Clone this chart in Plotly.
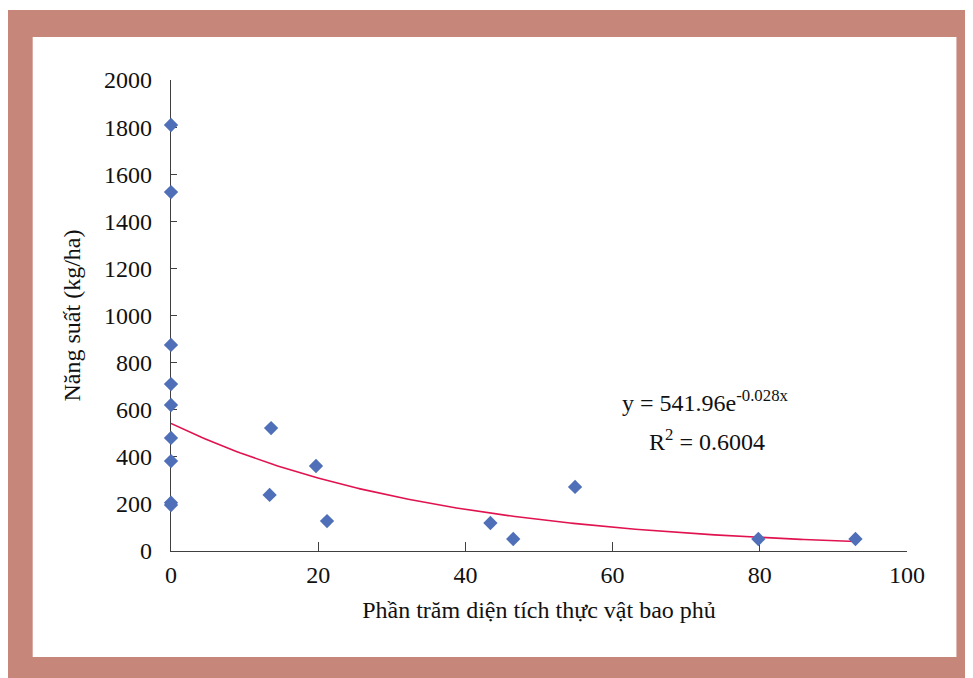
import numpy as np
import plotly.graph_objects as go

# Data
coverage = [0, 0, 0, 0, 0, 0, 0, 0, 0,
            13.6, 13.4, 19.7, 21.2, 43.4, 46.5, 54.9, 79.8, 93.0]
yield_kg = [1809, 1524, 875, 709, 620, 480, 382, 205, 195,
            522, 238, 361, 127, 119, 51, 272, 51, 51]

fit_a = 541.96
fit_b = -0.028
fit_r2 = 0.6004

x_ticks = [0, 20, 40, 60, 80, 100]
y_ticks = [0, 200, 400, 600, 800, 1000, 1200, 1400, 1600, 1800, 2000]

x_title = "Phần trăm diện tích thực vật bao phủ"
y_title = "Năng suất (kg/ha)"

# page has an 8px body margin: compensate
OFF = 8
PAGE_W, PAGE_H = 973, 678
W, H = PAGE_W - OFF, PAGE_H - OFF
# target plot area in page pixels
PL, PR, PT, PB = 170.5, 907.5, 80, 551
ML, MT = PL - OFF, PT - OFF
MR, MB = W - (PR - OFF), H - (PB - OFF)
PW, PH = PR - PL, PB - PT

def px(xpage):
    return (xpage - PL) / PW

def py(ypage):
    return (PB - ypage) / PH

xfit = np.linspace(0, max(coverage), 200)
yfit = fit_a * np.exp(fit_b * xfit)

font_family = "Liberation Serif, Times New Roman, serif"
axis_col = "#404040"
FS = 24

fig = go.Figure()
fig.add_trace(go.Scatter(x=xfit, y=yfit, mode="lines",
                         line=dict(color="#E0134F", width=1.6),
                         hoverinfo="skip", showlegend=False))
fig.add_trace(go.Scatter(x=coverage, y=yield_kg, mode="markers", cliponaxis=False,
                         marker=dict(symbol="diamond", size=11, color="#4F6FB8",
                                     line=dict(width=0)),
                         showlegend=False))

fig.update_layout(
    width=W, height=H,
    margin=dict(l=ML, r=MR, t=MT, b=MB, pad=0),
    paper_bgcolor="white",
    plot_bgcolor="rgba(0,0,0,0)",
    font=dict(family=font_family, size=FS, color="#111111"),
    showlegend=False,
    xaxis=dict(range=[0, 100], tickvals=x_ticks, ticks="inside", ticklen=9,
               tickcolor=axis_col, showline=True, linecolor=axis_col, linewidth=1.3,
               showgrid=False, zeroline=False, ticklabelstandoff=2,
               layer="below traces",
               tickfont=dict(size=FS),
               title=dict(text=x_title, font=dict(size=FS), standoff=14)),
    yaxis=dict(range=[0, 2000], tickvals=y_ticks, ticks="inside", ticklen=6,
               tickcolor=axis_col, showline=True, linecolor=axis_col, linewidth=1.3,
               showgrid=False, zeroline=False, ticklabelstandoff=13,
               layer="below traces",
               tickfont=dict(size=FS),
               title=dict(text=y_title, font=dict(size=FS), standoff=16)),
    shapes=[
        dict(type="rect", xref="paper", yref="paper", layer="below",
             x0=px(5), x1=px(PAGE_W + 5), y0=py(10), y1=py(PAGE_H + 5),
             fillcolor="#C6877A", line=dict(width=0)),
        dict(type="rect", xref="paper", yref="paper", layer="below",
             x0=px(32), x1=px(957), y0=py(37), y1=py(657),
             fillcolor="white", line=dict(width=0)),
    ],
    annotations=[
        dict(xref="paper", yref="paper", x=px(706), y=py(401), showarrow=False,
             text=f"y = {fit_a}e<sup>{fit_b}x</sup>", font=dict(size=FS),
             xanchor="center", yanchor="middle"),
        dict(xref="paper", yref="paper", x=px(707), y=py(440), showarrow=False,
             text=f"R<sup>2</sup> = {fit_r2}", font=dict(size=FS),
             xanchor="center", yanchor="middle"),
    ],
)

fig.write_html("out.html")
